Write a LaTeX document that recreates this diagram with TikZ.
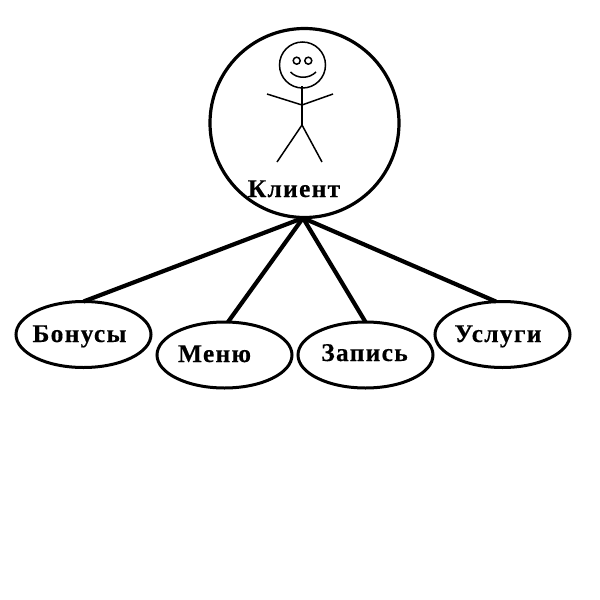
\documentclass[tikz,border=0pt]{standalone}
\usepackage{fontspec}
\setmainfont{Liberation Serif}
\newfontfamily\spacedserif[LetterSpace=5,BoldFeatures={FakeBold=0.3}]{Liberation Serif}
\usetikzlibrary{shapes.geometric}
\tikzset{
  px/.style={x=1pt,y=-1pt},
  oval/.style={draw=black,line width=3pt,ellipse,minimum width=135pt,minimum height=66pt,inner sep=0pt,outer sep=0pt},
  lbl/.style={font=\spacedserif\bfseries\fontsize{25.5}{28}\selectfont,inner sep=0pt,anchor=base},
  link/.style={line width=4.2pt},
  thinline/.style={line width=1.5pt}
}
\begin{document}
\begin{tikzpicture}[px]
\useasboundingbox (0,0) rectangle (600,600);
\fill[white] (0,0) rectangle (600,600);
\node[draw=black,line width=3.2pt,circle,minimum size=189pt,inner sep=0pt,outer sep=0pt] (client) at (304.5,123) {};
\node[oval] (b) at (83.5,334.5) {};
\node[oval] (m) at (224.5,355) {};
\node[oval] (z) at (365.5,355) {};
\node[oval] (u) at (502.5,334.5) {};
\node[lbl] (tc) at (294,197) {Клиент};
\node[lbl] (tb) at (79.5,342) {Бонусы};
\node[lbl] (tm) at (214.5,362) {Меню};
\node[lbl] (tz) at (364.5,361) {Запись};
\node[lbl] (tu) at (498,342) {Услуги};
\coordinate (hub) at (303,218);
\draw[link] (hub) -- (b.north);
\draw[link] (hub) -- (m.84);
\draw[link] (hub) -- (z.north);
\draw[link] (hub) -- (u.101);
% stick figure
\draw[thinline] (302.5,65) circle (23);
\draw[thinline] (296.7,60.7) circle (3.5);
\draw[thinline] (308.3,60.7) circle (3.5);
\draw[thinline] (290.5,72) .. controls (297,79) and (309,79) .. (316,72);
\draw[thinline] (302,86) -- (302,125);
\draw[thinline] (267,94) -- (302,105) -- (333,94);
\draw[thinline] (277,162) -- (302,125) -- (322,162);
\end{tikzpicture}
\end{document}
